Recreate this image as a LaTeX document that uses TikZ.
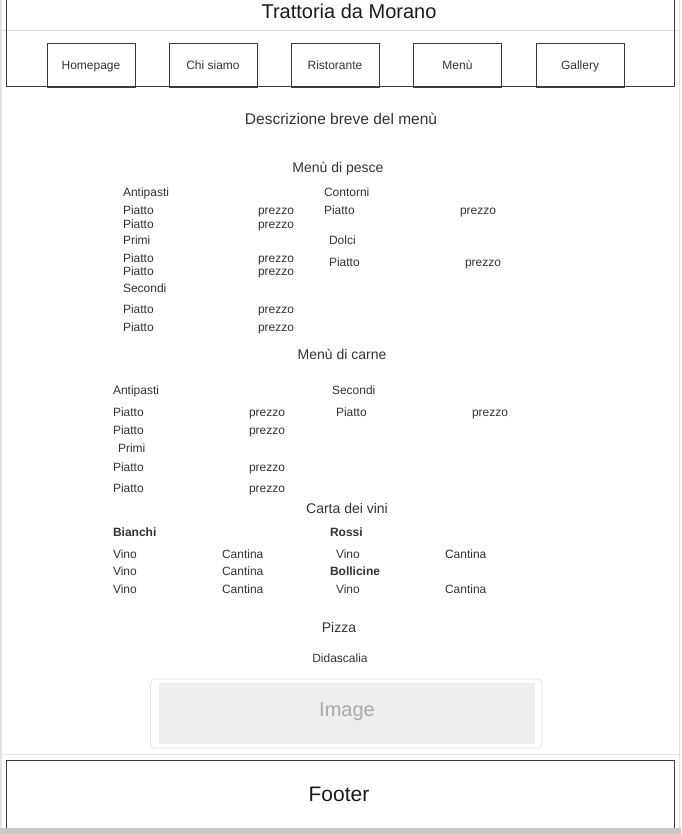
\documentclass[tikz,border=0pt]{standalone}
\usepackage{fontspec}
\setmainfont{Liberation Sans}
\definecolor{txt}{HTML}{333333}
\definecolor{dark}{HTML}{1A1A1A}
\definecolor{frame}{HTML}{3C3C3C}
\definecolor{faint}{HTML}{E2E2E2}
\definecolor{imgfill}{HTML}{EEEEEE}
\definecolor{imgtxt}{HTML}{AAAAAA}
\definecolor{strip}{HTML}{C8C8C8}
\begin{document}
\begin{tikzpicture}[x=1pt,y=-1pt,
  every node/.style={inner sep=0pt,outer sep=0pt,text=txt},
  small/.style={font=\fontsize{12}{14}\selectfont,anchor=west,text height=10.6pt,text depth=2.5pt},
  smallb/.style={font=\fontsize{12}{14}\selectfont\bfseries,anchor=west,text height=10.6pt,text depth=2.5pt},
  head/.style={font=\fontsize{14}{16}\selectfont,text height=12pt,text depth=3pt},
  big/.style={font=\fontsize{20}{24}\selectfont,text height=16.4pt,text depth=4.2pt},
  navbox/.style={draw=frame,line width=0.9pt,minimum width=88pt,minimum height=44pt,font=\fontsize{12}{14}\selectfont,text height=10.6pt,text depth=2.5pt}]
\useasboundingbox (0,0) rectangle (681,834);
\fill[white] (0,0) rectangle (681,834);
% faint page edges
\draw[faint,line width=1.5pt] (1,0) -- (1,834);
\draw[faint,line width=1.5pt] (679.5,0) -- (679.5,834);
\draw[faint,line width=0.8pt] (0,30) -- (681,30);
\draw[faint,line width=0.8pt] (0,754) -- (681,754);
% header frame
\draw[frame,line width=1pt] (6,-5) rectangle (674,87);
\node[big,text=dark] (title) at (349,12) {Trattoria da Morano};
% nav
\node[navbox] (home) at (91,65) {Homepage};
\node[navbox] (chi) at (213,65) {Chi siamo};
\node[navbox] (rist) at (335,65) {Ristorante};
\node[navbox] (menu) at (457.5,65) {Menù};
\node[navbox] (gall) at (580,65) {Gallery};
% description
\node[font=\fontsize{15.5}{18}\selectfont,text height=13pt,text depth=3.2pt] (desc) at (341,120) {Descrizione breve del menù};
% pesce
\node[head] (pesce) at (338,168) {Menù di pesce};
\node[small] (pa) at (123,192) {Antipasti};
\node[small] (pc) at (324,192) {Contorni};
\node[small] (p1) at (123,210) {Piatto};
\node[small] (p1p) at (258,210) {prezzo};
\node[small] (c1) at (324,210) {Piatto};
\node[small] (c1p) at (460,210) {prezzo};
\node[small] (p2) at (123,224) {Piatto};
\node[small] (p2p) at (258,224) {prezzo};
\node[small] (pp) at (123,240) {Primi};
\node[small] (pd) at (329,240) {Dolci};
\node[small] (p3) at (123,258) {Piatto};
\node[small] (p3p) at (258,258) {prezzo};
\node[small] (d1) at (329,262) {Piatto};
\node[small] (d1p) at (465,262) {prezzo};
\node[small] (p4) at (123,271) {Piatto};
\node[small] (p4p) at (258,271) {prezzo};
\node[small] (ps) at (123,288) {Secondi};
\node[small] (p5) at (123,309) {Piatto};
\node[small] (p5p) at (258,309) {prezzo};
\node[small] (p6) at (123,327) {Piatto};
\node[small] (p6p) at (258,327) {prezzo};
% carne
\node[head] (carne) at (342,355) {Menù di carne};
\node[small] (ca) at (113,390) {Antipasti};
\node[small] (cs) at (332,390) {Secondi};
\node[small] (k1) at (113,412) {Piatto};
\node[small] (k1p) at (249,412) {prezzo};
\node[small] (s1) at (336,412) {Piatto};
\node[small] (s1p) at (472,412) {prezzo};
\node[small] (k2) at (113,430) {Piatto};
\node[small] (k2p) at (249,430) {prezzo};
\node[small] (cp) at (118,448) {Primi};
\node[small] (k3) at (113,467) {Piatto};
\node[small] (k3p) at (249,467) {prezzo};
\node[small] (k4) at (113,488) {Piatto};
\node[small] (k4p) at (249,488) {prezzo};
% vini
\node[head] (vini) at (347,509) {Carta dei vini};
\node[smallb] (bia) at (113,532) {Bianchi};
\node[smallb] (ros) at (330,532) {Rossi};
\node[small] (v1) at (113,554) {Vino};
\node[small] (v1c) at (222,554) {Cantina};
\node[small] (r1) at (336,554) {Vino};
\node[small] (r1c) at (445,554) {Cantina};
\node[small] (v2) at (113,571) {Vino};
\node[small] (v2c) at (222,571) {Cantina};
\node[smallb] (bol) at (330,571) {Bollicine};
\node[small] (v3) at (113,589) {Vino};
\node[small] (v3c) at (222,589) {Cantina};
\node[small] (b1) at (336,589) {Vino};
\node[small] (b1c) at (445,589) {Cantina};
% pizza
\node[head] (pizza) at (339,628) {Pizza};
\node[font=\fontsize{12}{14}\selectfont,text height=10.6pt,text depth=2.5pt] (did) at (340,658) {Didascalia};
\draw[faint,line width=0.8pt,rounded corners=4pt] (150.5,679) rectangle (542,748);
\fill[imgfill] (159,683) rectangle (535,744);
\node[big,text=imgtxt] (img) at (347,710) {Image};
% footer
\draw[frame,line width=1pt] (6,760) rectangle (674,845);
\node[font=\fontsize{21}{25}\selectfont,text=dark,text height=17pt,text depth=4.4pt] (foot) at (339,795) {Footer};
\fill[strip] (0,828) rectangle (681,834);
\end{tikzpicture}
\end{document}
